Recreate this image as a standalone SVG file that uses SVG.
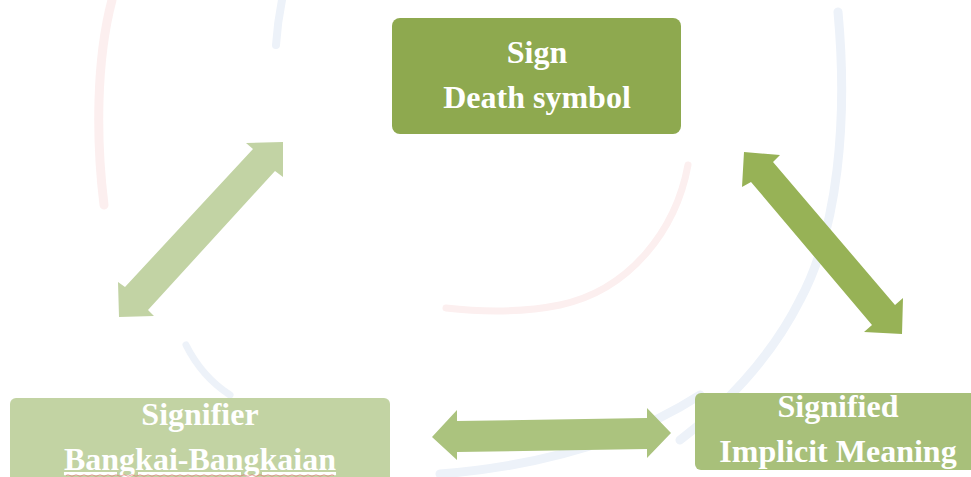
<svg xmlns="http://www.w3.org/2000/svg" width="971" height="477" viewBox="0 0 971 477">
  <style>
    .lbl { font-family: "Liberation Serif", "Times New Roman", serif; font-weight: bold; font-size: 32px; fill: #ffffff; text-anchor: middle; }
    .wm-red { fill: none; stroke: #fcefef; stroke-linecap: round; }
    .wm-blue { fill: none; stroke: #edf2f9; stroke-linecap: round; }
  </style>
  <rect width="971" height="477" fill="#ffffff"/>

  <!-- faint background watermark arcs -->
  <g id="watermark">
    <path class="wm-red" stroke-width="9" d="M112,0 C96,60 96,140 104,205"/>
    <path class="wm-red" stroke-width="7" d="M688,165 C676,230 630,290 560,305 C520,313 480,312 446,308"/>
    <path class="wm-blue" stroke-width="8" d="M282,0 C279,15 277,30 276,45"/>
    <path class="wm-blue" stroke-width="9" d="M838,12 C848,120 838,230 800,300 C770,360 720,410 680,440"/>
    <path class="wm-blue" stroke-width="7" d="M186,345 C196,365 210,382 230,395"/>
    <path class="wm-blue" stroke-width="9" d="M440,474 C540,466 630,440 700,395"/>
  </g>

  <!-- connectors -->
  <g id="connectors">
    <polygon id="arrow-sign-signifier" fill="#c2d3a4"
      points="283,142 283,177 275,171 148,310 154,316 119,317 118,282 125,287 253,149 246,143"/>
    <polygon id="arrow-sign-signified" fill="#97b256"
      points="744,152 780,155 773,162 895,305 903,298 902,334 864,332 872,325 751,182 742,187"/>
    <polygon id="arrow-signifier-signified" fill="#abc37e"
      points="432,437 457,410 457,421 647,418 647,408 671,433 647,458 647,449 457,452 457,460"/>
  </g>

  <!-- nodes -->
  <g id="node-sign">
    <rect x="392" y="18" width="289" height="116" rx="8" fill="#8ea94f"/>
    <text class="lbl" x="537" y="63">Sign</text>
    <text class="lbl" x="537" y="108">Death symbol</text>
  </g>

  <g id="node-signifier">
    <rect x="10" y="398" width="380" height="95" rx="6" fill="#c2d3a3"/>
    <text class="lbl" x="200" y="425">Signifier</text>
    <text class="lbl" x="200" y="470" text-decoration="underline">Bangkai-Bangkaian</text>
    <path d="M66,475.5 q2,-1.5 4,0 t4,0 t4,0 t4,0 t4,0 t4,0 t4,0 t4,0 t4,0 t4,0 t4,0 t4,0 t4,0 t4,0 t4,0 t4,0 t4,0 t4,0 t4,0 t4,0 t4,0 t4,0 t4,0 t4,0 t4,0 t4,0 t4,0 t4,0 t4,0 t4,0 t4,0 t4,0 t4,0 t4,0 t4,0 t4,0 t4,0 t4,0 t4,0 t4,0 t4,0 t4,0 t4,0 t4,0 t4,0 t4,0 t4,0 t4,0 t4,0 t4,0 t4,0 t4,0 t4,0 t4,0 t4,0 t4,0 t4,0 t4,0 t4,0 t4,0 t4,0 t4,0 t4,0 t4,0 t4,0 t4,0 t4,0" fill="none" stroke="#e07070" stroke-width="0.8" opacity="0.8"/>
  </g>

  <g id="node-signified">
    <rect x="695" y="393" width="290" height="77" rx="6" fill="#a8c07a"/>
    <text class="lbl" x="838" y="417">Signified</text>
    <text class="lbl" x="838" y="462">Implicit Meaning</text>
  </g>
</svg>
